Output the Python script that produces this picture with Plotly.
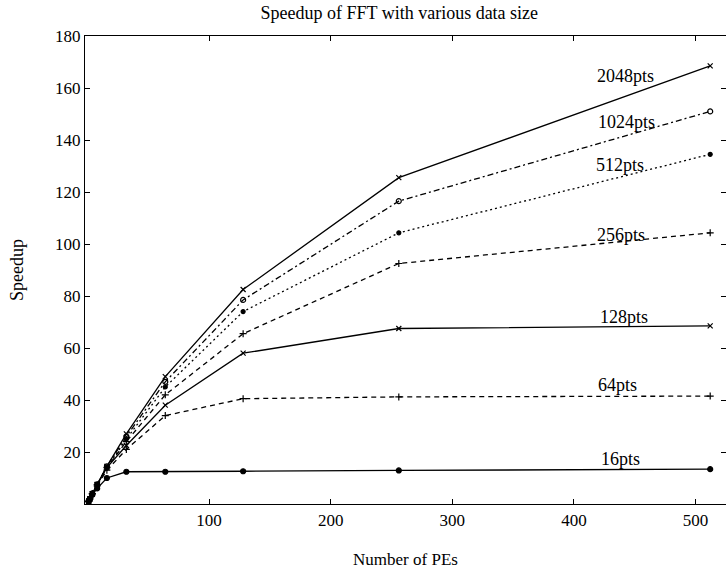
import plotly.graph_objects as go

# Number of processing elements
pes = [1, 2, 4, 8, 16, 32, 64, 128, 256, 512]

# Measured speedup for each FFT data size
speedup_2048 = [1, 2, 4, 7.5, 14.5, 27, 49, 82.5, 125.5, 168.5]
speedup_1024 = [1, 2, 4, 7.5, 14.5, 26, 47, 78.5, 116.5, 151]
speedup_512 = [1, 2, 4, 7.5, 14, 25, 45, 74, 104.3, 134.5]
speedup_256 = [1, 2, 4, 7.5, 14, 24, 42, 65.5, 92.5, 104.3]
speedup_128 = [1, 2, 4, 7.5, 14, 22.5, 38, 58, 67.5, 68.5]
speedup_64 = [1, 2, 3.9, 7, 13, 21, 34, 40.5, 41.2, 41.5]
speedup_16 = [1, 1.9, 3.5, 6, 10, 12.4, 12.4, 12.6, 12.9, 13.4]

series_names = ["2048pts", "1024pts", "512pts", "256pts", "128pts", "64pts", "16pts"]
label_x = [442, 443, 438, 439, 441, 436, 438]
label_y = [164.5, 147, 130.5, 103.5, 72, 45.8, 17.5]

series_values = [speedup_2048, speedup_1024, speedup_512, speedup_256,
                 speedup_128, speedup_64, speedup_16]
styles = [
    dict(dash="solid", symbol="x-thin", size=5),
    dict(dash="6px,3px,2px,3px", symbol="circle-open", size=5),
    dict(dash="2px,3px", symbol="circle", size=4),
    dict(dash="5px,4px", symbol="cross-thin", size=5),
    dict(dash="solid", symbol="x-thin", size=5),
    dict(dash="5px,4px", symbol="cross-thin", size=5),
    dict(dash="solid", symbol="circle", size=5),
]

FONT = "Liberation Serif"
fig = go.Figure()
for name, vals, st in zip(series_names, series_values, styles):
    fig.add_trace(go.Scatter(
        x=pes, y=vals, mode="lines+markers", name=name,
        line=dict(color="black", width=1.3, dash=st["dash"]),
        marker=dict(color="black", symbol=st["symbol"], size=st["size"],
                    line=dict(color="black", width=1.2)),
        showlegend=False,
    ))

for name, lx, ly in zip(series_names, label_x, label_y):
    fig.add_annotation(x=lx, y=ly, text=name, showarrow=False,
                       font=dict(family=FONT, size=18, color="black"))

axis_common = dict(
    showgrid=False, zeroline=False, showline=True, linecolor="black",
    linewidth=1.3, mirror="ticks", ticks="inside", ticklen=5,
    tickcolor="black", tickwidth=1,
    tickfont=dict(family=FONT, size=17, color="black"),
)
fig.update_xaxes(range=[-2, 525], tickvals=[100, 200, 300, 400, 500],
                 title=dict(text="Number of PEs", standoff=24,
                            font=dict(family=FONT, size=17, color="black")),
                 **axis_common)
fig.update_yaxes(range=[0, 180], tickvals=list(range(20, 181, 20)),
                 title=dict(text="Speedup", standoff=26,
                            font=dict(family=FONT, size=18, color="black")),
                 **axis_common)

fig.update_layout(
    width=726, height=570,
    margin=dict(l=85, r=0, t=36, b=66),
    paper_bgcolor="white", plot_bgcolor="white",
    title=dict(text="Speedup of FFT with various data size",
               x=0.55, xanchor="center", y=0.977, yanchor="middle",
               font=dict(family=FONT, size=18, color="black")),
)

fig.write_html("out.html")
